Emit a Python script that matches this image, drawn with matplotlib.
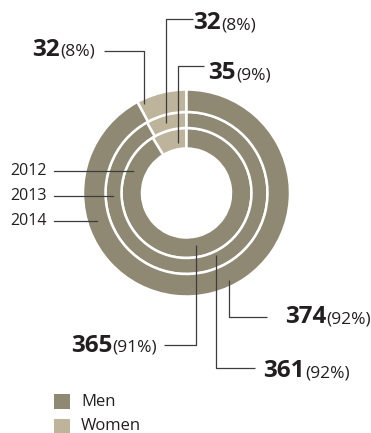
import matplotlib.pyplot as plt
from matplotlib.patches import Rectangle

# employees by gender, rings from inside out
years = ["2012", "2013", "2014"]
men = [365, 361, 374]
women = [35, 32, 32]
legend_labels = ["Men", "Women"]

MEN_COLOR = "#8f8873"
WOMEN_COLOR = "#bdb49b"
LINE_COLOR = "#3c3c3c"
TEXT_COLOR = "#231f20"
NUM_FONT = ["Liberation Sans Narrow", "Open Sans"]
TXT_FONT = ["Open Sans", "DejaVu Sans"]

W, H = 371, 433
fig = plt.figure(figsize=(W / 100, H / 100), dpi=100)
ax = fig.add_axes([0, 0, 1, 1])

cx, cy = 186.5, 193
# (outer radius, ring width) for 2012, 2013, 2014
rings = [(65, 20.5), (81, 16), (103.5, 22.5)]

for m, w, (r, width) in zip(men, women, rings):
    ax.pie([w, m], radius=r, center=(cx, cy), startangle=-90, counterclock=False,
           colors=[WOMEN_COLOR, MEN_COLOR], frame=True,
           wedgeprops=dict(width=width, edgecolor="white", linewidth=1.8))


def pct(part, a, b):
    return round(100 * part / (a + b))


def callout(path, split_x, base_y, number, percent):
    xs, ys = zip(*path)
    ax.plot(xs, ys, color=LINE_COLOR, lw=0.9, solid_capstyle="butt")
    ax.text(split_x, base_y, str(number), ha="right", va="baseline",
            family=NUM_FONT, weight="bold", fontsize=17.5, color=TEXT_COLOR)
    ax.text(split_x + 0.5, base_y, f"({percent}%)", ha="left", va="baseline",
            family=TXT_FONT, fontsize=12.5, color=TEXT_COLOR)


# women callouts (inner, middle, outer ring)
women_paths = [
    ([(178, 143), (178, 66), (204, 66)], 236, 79),
    ([(166, 123), (166, 19), (193, 19)], 221, 29),
    ([(144, 104), (144, 51), (104, 51)], 60, 56),
]
for (path, sx, by), w, m in zip(women_paths, women, men):
    callout(path, sx, by, w, pct(w, w, m))

# men callouts
men_paths = [
    ([(196, 245), (196, 345), (164, 345)], 112, 352),
    ([(216, 255), (216, 368), (255, 368)], 305, 377),
    ([(229, 280), (229, 317), (267, 317)], 326, 323),
]
for (path, sx, by), w, m in zip(men_paths, women, men):
    callout(path, sx, by, m, pct(m, w, m))

# year labels with leaders into each ring
year_rows = [(171, 133), (196, 113), (221, 97)]
for yr, (y, x_end) in zip(years, year_rows):
    ax.plot([54, x_end], [y, y], color=LINE_COLOR, lw=0.9)
    ax.text(10, y, yr, ha="left", va="center", family=TXT_FONT,
            fontsize=11.5, color=TEXT_COLOR)

# legend
for i, (lab, col) in enumerate(zip(legend_labels, [MEN_COLOR, WOMEN_COLOR])):
    y0 = 394 + i * 25
    ax.add_patch(Rectangle((54, y0), 16, 15, facecolor=col, edgecolor="none"))
    ax.text(81, y0 + 7.5, lab, ha="left", va="center", family=TXT_FONT,
            fontsize=12, color=TEXT_COLOR)

ax.set_xlim(0, W)
ax.set_ylim(H, 0)
ax.set_aspect("auto")
ax.axis("off")

fig.savefig("out.png", dpi=100, facecolor="white")
